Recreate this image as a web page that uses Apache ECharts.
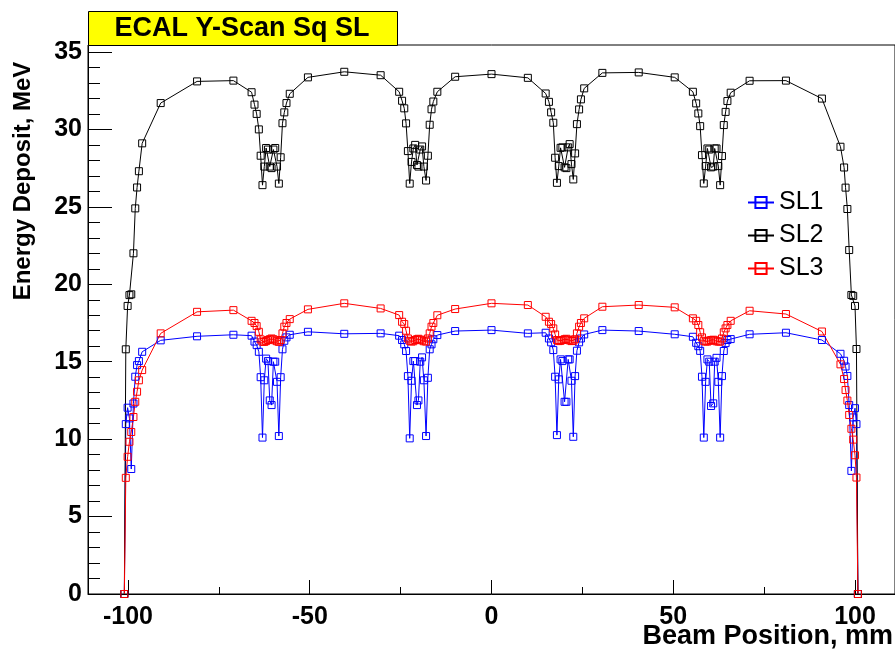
<!DOCTYPE html>
<html>
<head>
<meta charset="utf-8">
<script src="https://cdn.jsdelivr.net/npm/echarts@6/dist/echarts.min.js"></script>
<style>
  html, body { margin: 0; padding: 0; background: #fff; }
  #main { width: 895px; height: 652px; }
</style>
</head>
<body>
<div id="main"></div>
<script>
// beam positions (mm), shared by the three super-layers
var xPos = [
  -101.0, -100.6, -100.1, -99.6, -99.1, -98.5, -98.0, -97.5, -97.0, -96.1, -91.0, -81.0, -71.0,
  -66.0, -65.2, -64.6, -64.0, -63.5, -63.0, -62.5, -62.0, -61.5, -61.0, -60.5, -60.0, -59.5, -59.0, -58.5, -58.0, -57.5, -57.0, -56.4, -55.5,
  -50.5, -40.5, -30.5,
  -25.4, -24.6, -24.0, -23.5, -23.0, -22.5, -22.0, -21.5, -21.0, -20.5, -20.1, -19.6, -19.1, -18.6, -18.0, -17.5, -17.0, -16.5, -16.0, -14.9,
  -10.0, 0.0, 10.0,
  14.9, 15.8, 16.4, 17.0, 17.5, 18.0, 18.5, 19.0, 19.5, 20.1, 20.6, 21.1, 21.5, 22.0, 22.5, 23.0, 23.5, 24.1, 24.6, 25.5,
  30.5, 40.5, 50.4,
  55.4, 56.3, 56.9, 57.4, 57.9, 58.4, 58.9, 59.4, 59.9, 60.4, 61.0, 61.4, 61.9, 62.4, 62.9, 63.4, 63.9, 64.4, 64.9, 65.8,
  71.0, 81.0, 90.9,
  96.0, 97.0, 97.4, 97.9, 98.4, 99.0, 99.5, 100.0, 100.4, 100.8
];

var sl1 = [
  0, 10.97, 12.03, 11.34, 8.07, 12.3, 14.03, 14.78, 15.04, 15.64, 16.38, 16.64, 16.74,
  16.68, 16.3, 16.07, 15.64, 14.0, 10.1, 13.8, 15.2, 15.04, 12.5, 12.2, 15.0, 15.0, 13.7, 10.2, 14.0, 15.8, 16.35, 16.57, 16.74,
  16.93, 16.8, 16.83,
  16.68, 16.4, 16.12, 15.69, 14.07, 10.05, 13.77, 15.04, 15.04, 12.2, 12.5, 15.0, 15.28, 13.8, 10.2, 13.96, 15.8, 16.12, 16.45, 16.72,
  16.98, 17.04, 16.83,
  16.87, 16.5, 16.25, 15.75, 14.03, 10.26, 13.86, 15.15, 15.04, 12.41, 12.41, 15.15, 15.15, 13.77, 10.15, 14.07, 15.71, 16.25, 16.5, 16.76,
  17.04, 16.98, 16.77,
  16.61, 16.22, 16.0, 15.7, 14.03, 10.1, 13.7, 15.15, 15.0, 12.14, 12.31, 15.0, 15.25, 13.7, 10.1, 14.07, 15.69, 16.2, 16.4, 16.46,
  16.77, 16.87, 16.4,
  15.51, 15.06, 14.69, 14.08, 12.2, 7.95, 11.4, 12.0, 10.97, 0
];

var sl2 = [
  0, 15.8, 18.6, 19.3, 19.35, 22.0, 24.9, 26.25, 27.3, 29.1, 31.7, 33.1, 33.15,
  32.4, 31.6, 31.0, 30.0, 28.3, 26.4, 27.6, 28.8, 28.7, 27.6, 27.5, 28.7, 28.8, 27.6, 26.5, 28.2, 30.4, 31.1, 31.7, 32.3,
  33.36, 33.72, 33.5,
  32.43, 31.85, 31.36, 30.39, 28.6, 26.5, 27.9, 28.77, 29.0, 27.7, 27.6, 28.7, 28.9, 27.6, 26.7, 28.3, 30.3, 31.3, 31.8, 32.43,
  33.4, 33.57, 33.33,
  32.32, 31.78, 31.1, 30.43, 28.17, 26.55, 27.63, 28.81, 28.84, 27.55, 27.5, 28.84, 29.05, 27.76, 26.77, 28.45, 30.34, 31.29, 31.94, 32.65,
  33.65, 33.68, 33.36,
  32.43, 31.68, 31.03, 30.21, 28.34, 26.51, 27.63, 28.77, 28.7, 27.55, 27.6, 28.77, 28.77, 27.63, 26.4, 28.28, 30.28, 31.13, 31.83, 32.37,
  33.14, 33.15, 31.99,
  28.88, 27.54, 26.24, 24.86, 22.21, 19.31, 19.25, 18.6, 15.82, 0
];

var sl3 = [
  0, 7.5, 8.86, 9.83, 10.46, 11.43, 12.41, 13.06, 13.8, 14.46, 16.83, 18.22, 18.33,
  17.64, 17.5, 17.3, 16.93, 16.44, 16.3, 16.28, 16.33, 16.4, 16.45, 16.5, 16.45, 16.38, 16.32, 16.28, 16.4, 16.83, 17.26, 17.5, 17.75,
  18.38, 18.77, 18.44,
  18.01, 17.58, 17.43, 17.0, 16.5, 16.35, 16.3, 16.32, 16.4, 16.45, 16.48, 16.42, 16.38, 16.32, 16.3, 16.5, 16.83, 17.26, 17.5, 18.0,
  18.4, 18.77, 18.66,
  17.9, 17.58, 17.43, 17.15, 16.76, 16.4, 16.33, 16.35, 16.4, 16.45, 16.48, 16.42, 16.38, 16.33, 16.35, 16.45, 16.83, 17.26, 17.5, 17.8,
  18.55, 18.66, 18.51,
  17.8, 17.64, 17.37, 16.9, 16.57, 16.35, 16.3, 16.3, 16.35, 16.4, 16.42, 16.38, 16.32, 16.3, 16.3, 16.5, 16.9, 17.15, 17.37, 17.64,
  18.29, 18.08, 16.95,
  14.83, 13.88, 13.17, 12.49, 11.56, 10.67, 9.97, 8.96, 7.52, 0
];

var xMajor = [-100, -50, 0, 50, 100];
var xMinor = [-75, -25, 25, 75];
var yMajor = [0, 5, 10, 15, 20, 25, 30, 35];
var yMinor = [1, 2, 3, 4, 6, 7, 8, 9, 11, 12, 13, 14, 16, 17, 18, 19, 21, 22, 23, 24, 26, 27, 28, 29, 31, 32, 33, 34];

var FONT = '"Liberation Sans", Arial, Helvetica, sans-serif';

function pairs(ys) {
  return xPos.map(function (x, i) { return [x, ys[i]]; });
}

function mkSeries(name, color, ys) {
  return {
    name: name,
    type: 'line',
    data: pairs(ys),
    symbol: 'rect',
    symbolSize: 7,
    showAllSymbol: true,
    color: color,
    lineStyle: { color: color, width: 1 },
    itemStyle: { color: 'rgba(255,255,255,0)', borderColor: color, borderWidth: 1 },
    emphasis: { disabled: true },
    clip: true
  };
}

var myChart = echarts.init(document.getElementById('main'));
var option = {
  animation: false,
  backgroundColor: '#fff',
  grid: {
    left: 88, top: 45, width: 810, height: 549,
    show: true, borderColor: '#000', borderWidth: 1, backgroundColor: '#fff'
  },
  legend: {
    orient: 'vertical',
    left: 742, top: 185,
    itemWidth: 26, itemHeight: 14, itemGap: 8,
    textStyle: { fontFamily: FONT, fontSize: 25, color: '#000' },
    data: ['SL1', 'SL2', 'SL3']
  },
  xAxis: [
    {
      type: 'value', min: -111, max: 111, position: 'bottom',
      axisLine: { show: true, onZero: false, lineStyle: { color: '#000', width: 1 } },
      axisTick: { show: true, inside: true, length: 14, customValues: xMajor, lineStyle: { color: '#000' } },
      axisLabel: {
        customValues: xMajor, margin: 11, color: '#000',
        fontFamily: FONT, fontWeight: 'bold', fontSize: 25
      },
      splitLine: { show: false }
    },
    {
      type: 'value', min: -111, max: 111, position: 'bottom',
      axisLine: { show: false, onZero: false },
      axisTick: { show: true, inside: true, length: 7, customValues: xMinor, lineStyle: { color: '#000' } },
      axisLabel: { show: false },
      splitLine: { show: false }
    }
  ],
  yAxis: [
    {
      type: 'value', min: 0, max: 35.45, position: 'left',
      axisLine: { show: true, onZero: false, lineStyle: { color: '#000', width: 1 } },
      axisTick: { show: true, inside: true, length: 24, customValues: yMajor, lineStyle: { color: '#000' } },
      axisLabel: {
        customValues: yMajor, margin: 6, color: '#000',
        fontFamily: FONT, fontWeight: 'bold', fontSize: 25
      },
      splitLine: { show: false }
    },
    {
      type: 'value', min: 0, max: 35.45, position: 'left',
      axisLine: { show: false, onZero: false },
      axisTick: { show: true, inside: true, length: 12, customValues: yMinor, lineStyle: { color: '#000' } },
      axisLabel: { show: false },
      splitLine: { show: false }
    }
  ],
  graphic: [
    {
      type: 'rect', left: 88, top: 11,
      shape: { width: 309, height: 34 },
      style: { fill: '#ffff00', stroke: '#000', lineWidth: 1 },
      z: 10
    },
    {
      type: 'text', x: 242, y: 29,
      style: {
        text: 'ECAL Y-Scan Sq SL', fill: '#000',
        font: 'bold 27px ' + FONT, textAlign: 'center', textVerticalAlign: 'middle'
      },
      z: 11
    },
    {
      type: 'text', x: 23, y: 181, rotation: Math.PI / 2,
      style: {
        text: 'Energy Deposit, MeV', fill: '#000',
        font: 'bold 24px ' + FONT, textAlign: 'center', textVerticalAlign: 'middle'
      }
    },
    {
      type: 'text', x: 893, y: 637,
      style: {
        text: 'Beam Position, mm', fill: '#000',
        font: 'bold 27px ' + FONT, textAlign: 'right', textVerticalAlign: 'middle'
      }
    }
  ],
  series: [
    mkSeries('SL1', '#0000ff', sl1),
    mkSeries('SL2', '#000000', sl2),
    mkSeries('SL3', '#ff0000', sl3)
  ]
};
myChart.setOption(option);
</script>
</body>
</html>
